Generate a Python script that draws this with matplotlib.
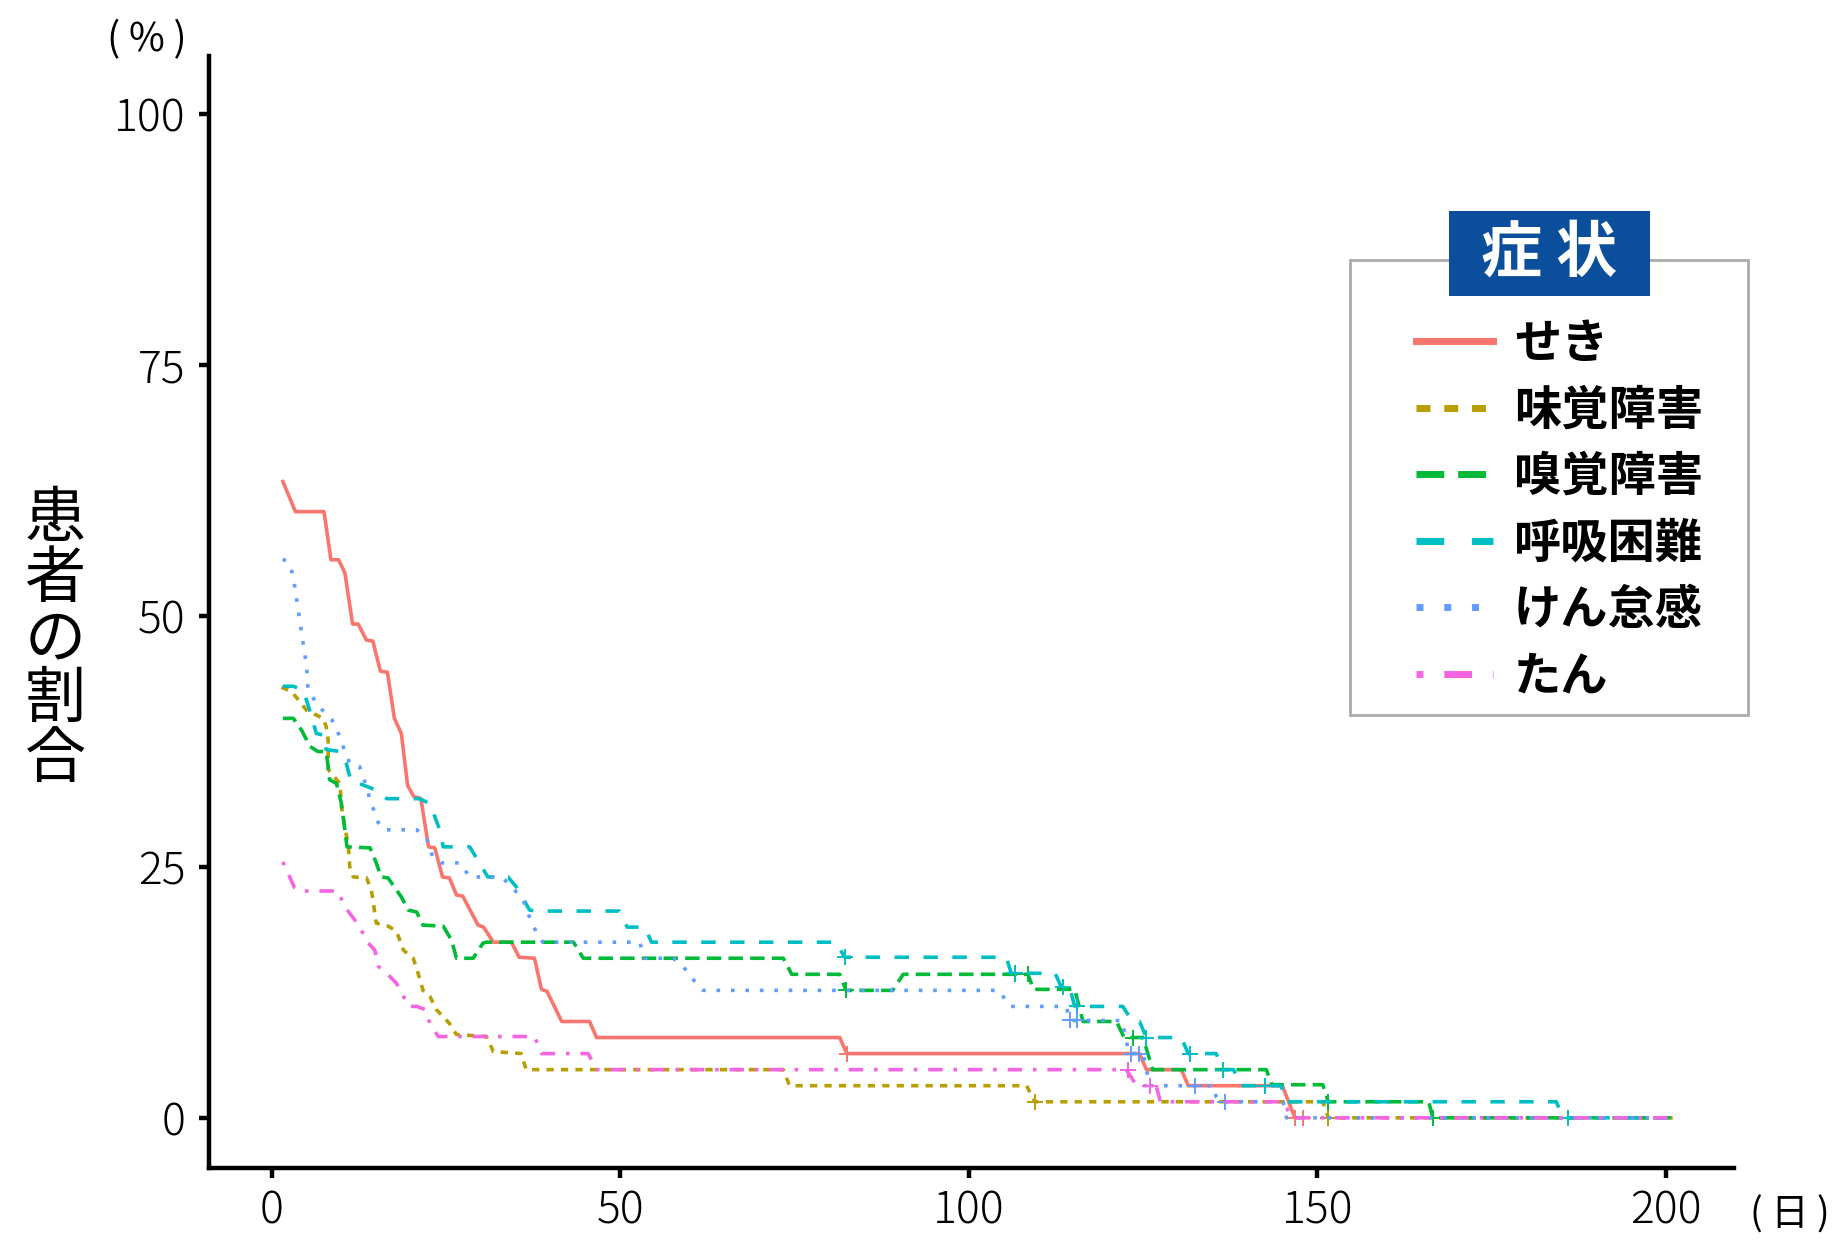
import matplotlib
matplotlib.use("Agg")
import matplotlib.pyplot as plt
from matplotlib.patches import Rectangle

plt.rcParams['font.family'] = ['Noto Sans CJK JP', 'DejaVu Sans']

# 症状ごとの曲線 (日, %) 図から読み取った値
labels = ["せき", "味覚障害", "嗅覚障害", "呼吸困難", "けん怠感", "たん"]
colors = ["#F8766D", "#B79F00", "#00BA38", "#00BFC4", "#619CFF", "#F564E3"]
dashes = [None, (2, 2), (4, 2), (4, 4), (1, 3), (1, 3, 4, 3)]

seki_x = [1.6, 3.4, 7.5, 8.5, 9.6, 10.5, 11.6, 12.4, 13.6, 14.5, 15.6, 16.6, 17.6, 18.6, 19.5,
          20.4, 21.4, 22.5, 23.4, 24.5, 25.5, 26.5, 27.4, 29.6, 30.4, 31.8, 34.4, 35.5, 37.7,
          38.7, 39.5, 41.6, 45.6, 46.6, 81.5, 82.5, 124.5, 125.5, 130.5, 131.5, 145.0, 146.8, 148.0]
seki_y = [63.4, 60.4, 60.4, 55.6, 55.6, 54.3, 49.2, 49.2, 47.6, 47.5, 44.5, 44.4, 39.8, 38.3, 33.1,
          32.0, 31.8, 27.0, 26.9, 24.0, 23.9, 22.2, 22.1, 19.2, 19.0, 17.5, 17.5, 16.0, 15.9,
          12.8, 12.6, 9.6, 9.6, 8.0, 8.0, 6.4, 6.4, 4.8, 4.8, 3.2, 3.2, 0, 0]

mikaku_x = [1.4, 2.8, 4.0, 5.0, 7.4, 7.8, 8.1, 8.1, 9.8, 10.0, 10.5, 11.0, 11.2, 11.7, 13.6, 14.3,
            15.0, 16.7, 17.9, 18.9, 20.3, 21.0, 21.7, 22.7, 23.6, 25.5, 26.5, 30.8, 31.8, 35.8,
            36.5, 73.4, 74.3, 108.3, 109.5, 150.8, 151.6, 201.0]
mikaku_y = [42.9, 42.5, 41.5, 40.6, 39.8, 39.0, 37.6, 34.7, 33.3, 31.0, 29.0, 27.0, 25.0, 24.0, 23.9,
            22.7, 19.4, 19.1, 18.6, 16.7, 15.9, 14.4, 12.7, 12.1, 10.8, 9.4, 8.3, 8.1, 6.6, 6.4,
            4.8, 4.8, 3.2, 3.2, 1.6, 1.6, 0, 0]

kyukaku_x = [1.6, 3.1, 4.3, 5.5, 6.6, 7.8, 8.1, 8.3, 9.3, 10.0, 10.3, 10.8, 14.1, 15.0, 15.7, 16.7,
             18.6, 19.6, 20.8, 21.7, 24.6, 25.8, 26.5, 28.9, 30.3, 30.8, 43.3, 44.7, 73.4, 74.6,
             81.5, 82.4, 89.1, 90.6, 108.5, 109.3, 115.2, 116.4, 121.2, 122.3, 125.0, 126.4,
             142.7, 143.5, 150.8, 151.6, 166.0, 166.6, 201.0]
kyukaku_y = [39.8, 39.8, 38.6, 37.0, 36.5, 36.5, 35.0, 33.7, 33.3, 31.3, 29.7, 27.0, 26.9, 25.4,
             24.0, 23.9, 22.0, 20.7, 20.5, 19.2, 19.1, 17.7, 15.9, 15.9, 17.4, 17.5, 17.5, 15.9,
             15.9, 14.3, 14.3, 12.7, 12.7, 14.3, 14.3, 12.8, 12.8, 9.6, 9.6, 8.0, 8.0, 4.8,
             4.8, 3.3, 3.3, 1.6, 1.6, 0, 0]

kokyu_x = [1.6, 3.1, 4.5, 5.0, 5.7, 6.4, 7.6, 7.8, 9.8, 10.7, 11.4, 12.6, 14.8, 16.5, 21.2, 22.7,
           24.1, 24.6, 28.4, 29.8, 31.0, 33.9, 35.1, 37.0, 38.0, 49.9, 51.0, 53.5, 54.5, 81.0,
           82.2, 105.4, 106.1, 112.4, 113.3, 114.5, 115.2, 122.1, 123.5, 124.5, 125.5, 130.5,
           131.5, 135.5, 136.5, 138.0, 139.0, 144.8, 145.6, 184.3, 185.3, 201.0]
kokyu_y = [43.0, 43.0, 42.6, 41.6, 40.0, 38.3, 38.1, 36.7, 36.5, 35.3, 33.5, 33.3, 32.7, 31.8, 31.8,
           31.3, 28.7, 27.0, 27.0, 25.4, 24.0, 24.0, 23.0, 20.7, 20.6, 20.6, 19.0, 19.0, 17.5,
           17.5, 16.0, 16.0, 14.4, 14.4, 13.0, 13.0, 11.1, 11.1, 9.6, 9.6, 8.0, 8.0, 6.4, 6.4,
           4.8, 4.8, 3.2, 3.2, 1.6, 1.6, 0, 0]

kentai_x = [1.6, 2.6, 3.1, 3.8, 4.5, 5.0, 5.2, 6.6, 8.6, 9.4, 10.5, 11.2, 12.6, 13.6, 14.1, 15.3,
            16.0, 20.8, 22.2, 23.1, 24.3, 27.0, 28.4, 33.0, 34.6, 36.1, 36.5, 37.3, 38.0, 38.9,
            52.8, 53.5, 57.6, 59.0, 59.9, 60.9, 61.9, 104.4, 105.2, 105.9, 114.0, 114.5, 122.0,
            123.0, 125.0, 126.0, 135.1, 135.5, 136.0, 145.1, 145.6, 201.0]
kentai_y = [55.7, 55.1, 53.9, 50.6, 47.3, 45.0, 42.7, 41.1, 39.7, 38.6, 36.5, 35.3, 35.0, 33.0,
            31.7, 29.4, 28.7, 28.7, 27.9, 26.0, 25.4, 25.4, 24.0, 24.0, 22.9, 21.7, 20.7, 19.6,
            18.4, 17.5, 17.5, 15.9, 15.9, 15.1, 14.3, 13.4, 12.7, 12.7, 11.8, 11.1, 11.1, 9.7,
            9.7, 6.4, 6.4, 3.2, 3.2, 2.1, 1.6, 1.6, 0, 0]

tan_x = [1.6, 3.3, 4.0, 9.5, 10.5, 12.6, 13.6, 14.8, 15.3, 16.5, 17.9, 18.9, 19.6, 20.8, 22.0,
         22.7, 23.9, 37.7, 38.7, 45.4, 46.6, 122.6, 124.1, 126.9, 127.5, 145.0, 146.5, 201.0]
tan_y = [25.5, 22.9, 22.6, 22.6, 21.0, 19.1, 17.6, 16.7, 15.1, 14.4, 13.4, 12.1, 11.1, 11.1, 10.8,
         9.4, 8.1, 8.1, 6.4, 6.4, 4.8, 4.8, 3.2, 3.2, 1.6, 1.6, 0, 0]

# 打ち切り (+)
cens_x = [[82.5, 146.8, 148.0],
          [109.5, 151.6],
          [82.4, 106.6, 108.5, 123.5, 151.6, 166.6],
          [82.2, 106.6, 113.5, 115.5, 125.5, 131.8, 136.5, 142.5, 186.0],
          [114.5, 115.5, 123.3, 124.5, 132.5, 136.7],
          [122.8, 126.0]]
cens_y = [[6.4, 0, 0],
          [1.6, 0],
          [12.7, 14.3, 14.3, 8.0, 1.6, 0],
          [16.0, 14.4, 13.0, 11.1, 8.0, 6.4, 4.8, 3.2, 0],
          [9.7, 9.7, 6.4, 6.4, 3.2, 1.6],
          [4.8, 3.2]]

xs = [seki_x, mikaku_x, kyukaku_x, kokyu_x, kentai_x, tan_x]
ys = [seki_y, mikaku_y, kyukaku_y, kokyu_y, kentai_y, tan_y]

W, H = 1840, 1251
fig = plt.figure(figsize=(W / 100, H / 100), dpi=100)
ax = fig.add_axes([209 / W, 83 / H, (1734 - 209) / W, (1195 - 83) / H])

handles = []
for i in range(6):
    ln, = ax.plot(xs[i], ys[i], color=colors[i], lw=2.6, label=labels[i])
    if dashes[i] is not None:
        ln.set_dashes(dashes[i])
    handles.append(ln)
    ax.plot(cens_x[i], cens_y[i], ls='none', marker='+', ms=11, mew=1.4, color=colors[i])

ax.set_xlim(-9.0, 209.8)
ax.set_ylim(-5.0, 105.8)
ax.set_xticks([0, 50, 100, 150, 200])
ax.set_yticks([0, 25, 50, 75, 100])
for s in ['top', 'right']:
    ax.spines[s].set_visible(False)
for s in ['left', 'bottom']:
    ax.spines[s].set_linewidth(3.2)
ax.tick_params(width=3.2, length=7, labelsize=32, colors='black')
ax.tick_params(axis='y', pad=10)
ax.tick_params(axis='x', pad=8)
for t in ax.get_xticklabels() + ax.get_yticklabels():
    t.set_fontweight('light')

fig.text(147 / W, 1 - 40 / H, "( % )", fontsize=28, ha='center', va='center')
fig.text(1790 / W, 1 - 1215 / H, "( 日 )", fontsize=27, ha='center', va='center')
fig.text(55 / W, 1 - 640 / H, "\n".join("患者の割合"), fontsize=44,
         ha='center', va='center', linespacing=0.95)

# 凡例
fig.add_artist(Rectangle((1350 / W, 1 - 715 / H), 398 / W, 455 / H, transform=fig.transFigure,
                         facecolor='white', edgecolor='#AAAAAA', lw=2, zorder=3))
leg = fig.legend(handles, labels, loc='upper left', bbox_to_anchor=(1371 / W, 1 - 320 / H),
                 bbox_transform=fig.transFigure, borderaxespad=0, borderpad=0,
                 frameon=False, fontsize=34, handlelength=2.58, handletextpad=0.45,
                 labelspacing=0.39)
leg.set_zorder(5)
for t in leg.get_texts():
    t.set_fontweight('bold')
for h in leg.get_lines():
    h.set_linewidth(5)
    hx = h.get_xdata()
    hy = h.get_ydata()
    h.set_data([hx[-1] - 55, hx[-1]], [hy[0], hy[0]])

fig.add_artist(Rectangle((1449 / W, 1 - 296 / H), 201 / W, 85 / H,
                         transform=fig.transFigure, facecolor='#0B4F9C', edgecolor='none', zorder=10))
fig.text(1549 / W, 1 - 254 / H, "症 状", fontsize=44, fontweight='bold',
         color='white', ha='center', va='center', zorder=11)

fig.savefig("out.png", dpi=100)
